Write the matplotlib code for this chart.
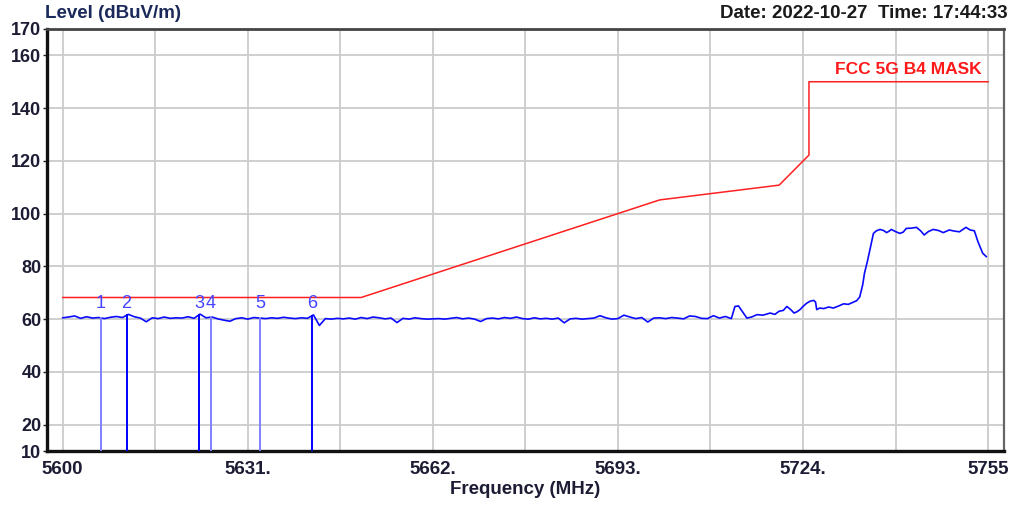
import numpy as np
import matplotlib
matplotlib.use("Agg")
import matplotlib.pyplot as plt
from matplotlib import font_manager

# ---------------------------------------------------------------------------
# data
trace_freq = [5600, 5601, 5602, 5603, 5604, 5605, 5606, 5607, 5608, 5609,
              5610, 5611, 5612, 5613, 5614, 5615, 5616, 5617, 5618, 5619,
              5620, 5621, 5622, 5623, 5624, 5625, 5626, 5627, 5628, 5629,
              5630, 5631, 5632, 5633, 5634, 5635, 5636, 5637, 5638, 5639,
              5640, 5641, 5642, 5643, 5644, 5645, 5646, 5647, 5648, 5649,
              5650, 5651, 5652, 5653, 5654, 5655, 5656, 5657, 5658, 5659,
              5660, 5661, 5662, 5663, 5664, 5665, 5666, 5667, 5668, 5669,
              5670, 5671, 5672, 5673, 5674, 5675, 5676, 5677, 5678, 5679,
              5680, 5681, 5682, 5683, 5684, 5685, 5686, 5687, 5688, 5689,
              5690, 5691, 5692, 5693, 5694, 5695, 5696, 5697, 5698, 5699,
              5700, 5701, 5702, 5703, 5704, 5705, 5706, 5707, 5708, 5709,
              5710, 5711, 5712,
              5712.6, 5713.2, 5713.8, 5714.6, 5715.4, 5716.3, 5717.3, 5718.5,
              5719.3, 5720.0, 5720.7, 5721.3, 5722.0, 5722.5, 5723.0, 5723.5,
              5724.0, 5724.6, 5725.2, 5725.8, 5726.1, 5726.3, 5726.8, 5727.5,
              5728.3, 5729.1, 5730.0, 5730.8, 5731.6, 5732.4, 5733.0, 5733.5,
              5734.0, 5734.3, 5734.8, 5735.2, 5735.5, 5735.8, 5736.3, 5736.9,
              5737.5, 5738.0, 5738.4, 5738.8, 5739.5, 5740.2, 5740.8, 5741.3,
              5742.2, 5743.0, 5743.7, 5744.3, 5745.0, 5745.8, 5746.7, 5747.5,
              5748.5, 5749.3, 5750.2, 5751.3, 5752.0, 5752.7, 5753.3, 5754.1,
              5754.7]
trace_level = [60.5, 60.8, 61.2, 60.3, 60.9, 60.4, 60.6, 60.2, 60.7, 61.0,
               60.6, 61.8, 60.9, 60.4, 59.0, 60.5, 60.2, 60.8, 60.3, 60.5,
               60.4, 60.9, 60.3, 61.9, 60.5, 60.8, 60.1, 59.6, 59.2, 60.2,
               60.5, 60.0, 60.6, 60.4, 60.2, 60.5, 60.3, 60.7, 60.4, 60.2,
               60.5, 60.3, 61.6, 57.6, 60.2, 60.0, 60.3, 60.1, 60.4, 60.0,
               60.6, 60.2, 60.8, 60.5, 60.1, 60.4, 58.7, 60.3, 60.0, 60.5,
               60.2, 60.0, 60.1, 60.2, 60.0, 60.3, 60.6, 60.1, 60.4, 60.0,
               59.1, 60.2, 60.4, 60.1, 60.6, 60.3, 60.8, 60.2, 60.0, 60.5,
               60.1, 60.3, 60.0, 60.4, 58.6, 60.1, 60.3, 60.0, 60.2, 60.4,
               61.3, 60.5, 60.0, 60.2, 61.5, 60.8, 60.2, 60.6, 58.9, 60.4,
               60.5, 60.2, 60.6, 60.4, 60.1, 61.2, 61.0, 60.3, 60.2, 61.3,
               60.4, 61.0, 60.2,
               64.8, 65.0, 63.0, 60.4, 60.8, 61.7, 61.5, 62.3,
               61.8, 63.0, 63.3, 64.8, 63.5, 62.3, 62.8, 63.6,
               64.8, 66.0, 66.8, 67.1, 66.5, 63.6, 64.2, 64.0,
               64.6, 64.2, 65.0, 65.8, 65.6, 66.4, 67.0, 68.4,
               73.0, 77.4, 82.0, 86.2, 89.5, 92.5, 93.5, 94.0,
               93.6, 92.8, 93.3, 94.0, 93.2, 92.5, 93.0, 94.4,
               94.5, 94.8, 93.5, 91.9, 93.2, 94.0, 93.6, 92.8,
               93.8, 93.4, 93.1, 94.8, 93.8, 93.5, 89.4, 85.0,
               83.7]

mask_freq = [5600, 5650, 5700, 5720, 5725, 5725, 5755]
mask_level = [68.2, 68.2, 105.2, 110.8, 122.2, 150, 150]
mask_name = "FCC 5G B4 MASK"

marker_freq = [5606.4, 5610.7, 5622.9, 5624.8, 5633.05, 5641.8]
marker_name = ["1", "2", "3", "4", "5", "6"]
marker_strong = [False, True, True, False, False, True]

xtick_pos = [5600, 5631, 5662, 5693, 5724, 5755]
xtick_lab = ["5600", "5631.", "5662.", "5693.", "5724.", "5755"]
ytick_pos = [10, 20, 40, 60, 80, 100, 120, 140, 160, 170]

date_text = "Date: 2022-10-27  Time: 17:44:33"
# ---------------------------------------------------------------------------

names = {f.name for f in font_manager.fontManager.ttflist}
fam = "Liberation Sans" if "Liberation Sans" in names else "DejaVu Sans"
plt.rcParams['font.family'] = [fam, 'DejaVu Sans']

txtcol = "#1c1c34"

fig = plt.figure(figsize=(10.16, 5.05), dpi=100)
ax = fig.add_axes((47 / 1016, 1 - 451 / 505, 957 / 1016, 422 / 505))

ax.set_xlim(5597.37, 5757.67)
ax.set_ylim(10, 170)

# grid every 15.5 MHz / 20 dB
for g in np.arange(5600, 5756, 15.5):
    ax.axvline(g, color="#cccccc", linewidth=1.3, zorder=0)
for g in range(20, 170, 20):
    ax.axhline(g, color="#cccccc", linewidth=1.3, zorder=0)

# mask
ax.plot(mask_freq, mask_level, color="#ff2020", linewidth=1.1, zorder=2)
ax.text(5754, 154.5, mask_name, color="#ff1a1a", fontsize=12.5,
        fontweight="bold", ha="right", va="center")

# trace
ax.plot(trace_freq, trace_level, color="#0a0aff", linewidth=1.2, zorder=3)

# markers
for f, n, s in zip(marker_freq, marker_name, marker_strong):
    lv = np.interp(f, trace_freq, trace_level)
    ax.plot([f, f], [10, lv], color="#0000ff" if s else "#8080ff",
            linewidth=1.4, zorder=3)
    ax.text(f, 66.1, n, color="#4444ff", fontsize=13, ha="center",
            va="center")

ax.set_xticks(xtick_pos)
ax.set_xticklabels(xtick_lab)
ax.set_yticks(ytick_pos)
ax.tick_params(axis="x", length=0, pad=7, labelsize=13.5, labelcolor=txtcol)
ax.tick_params(axis="y", length=3, width=1, pad=1, labelsize=13,
               labelcolor=txtcol, color="#222222")
for lab in ax.get_xticklabels() + ax.get_yticklabels():
    lab.set_fontweight("bold")

ax.spines["left"].set_linewidth(2.4)
ax.spines["left"].set_color("#111111")
ax.spines["bottom"].set_linewidth(2.4)
ax.spines["bottom"].set_color("#111111")
ax.spines["top"].set_linewidth(2.0)
ax.spines["top"].set_color("#444444")
ax.spines["right"].set_linewidth(1.6)
ax.spines["right"].set_color("#666666")

fig.text(525 / 1016, 1 - 490 / 505, "Frequency (MHz)", ha="center",
         va="center", fontsize=13.5, fontweight="bold", color=txtcol)
fig.text(45 / 1016, 1 - 14 / 505, "Level (dBuV/m)", ha="left", va="center",
         fontsize=13.5, fontweight="bold", color="#1b2a5a")
fig.text(1008 / 1016, 1 - 14 / 505, date_text, ha="right", va="center",
         fontsize=13.5, fontweight="bold", color="#1a1a1a")

fig.savefig("out.png", dpi=100)
